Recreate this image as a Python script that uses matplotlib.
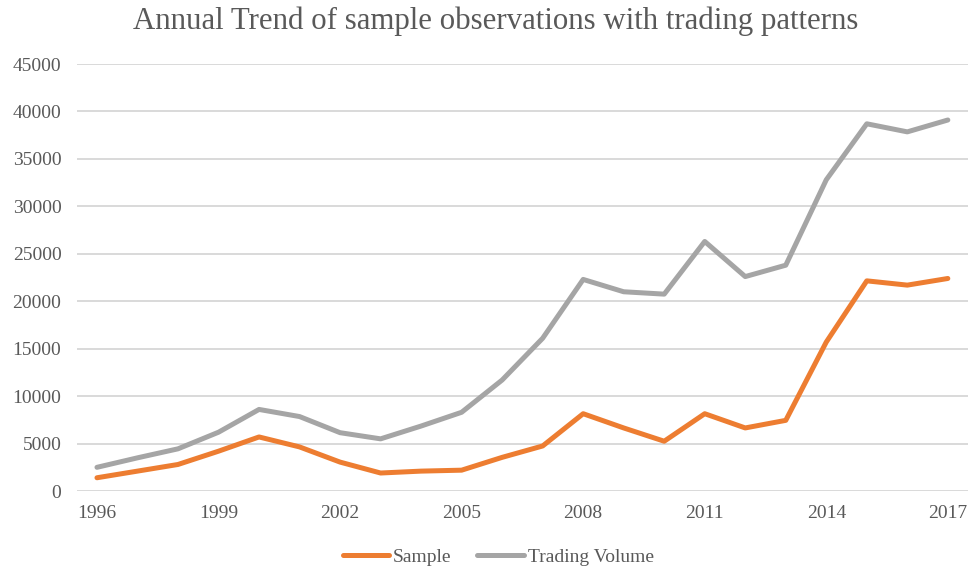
import numpy as np
import matplotlib.pyplot as plt

plt.rcParams['font.family'] = ['Liberation Serif', 'DejaVu Serif']

# data
years = list(range(1996, 2018))
sample = [1400, 2100, 2800, 4200, 5700, 4650, 3050, 1900, 2100, 2200,
          3550, 4750, 8150, 6650, 5250, 8150, 6650, 7450,
          15700, 22150, 21700, 22400]
trading = [2500, 3500, 4450, 6200, 8600, 7850, 6150, 5500, 6850, 8300,
           11700, 16100, 22300, 21000, 20750, 26300, 22600, 23800,
           32800, 38700, 37850, 39100]
xticks = list(range(1996, 2018, 3))

fig = plt.figure(figsize=(9.71, 5.69), dpi=100)
ax = fig.add_axes([0.079, 0.137, 0.918, 0.7505])

ax.plot(years, sample, color='#ED7D31', lw=3.6, label='Sample',
        solid_joinstyle='round', solid_capstyle='round')
ax.plot(years, trading, color='#A5A5A5', lw=3.6, label='Trading Volume',
        solid_joinstyle='round', solid_capstyle='round')

ax.set_xlim(1995.5, 2017.5)
ax.set_ylim(0, 45000)
ax.set_yticks(np.arange(0, 45001, 5000))
ax.set_xticks(xticks)
ax.yaxis.grid(True, color='#D9D9D9', lw=1.4)
ax.set_axisbelow(True)
for s in ax.spines.values():
    s.set_visible(False)
ax.tick_params(length=0, labelsize=14, labelcolor='#595959')
ax.tick_params(axis='y', pad=11)
ax.tick_params(axis='x', pad=10)

fig.suptitle('Annual Trend of sample observations with trading patterns',
             x=0.511, y=0.988, fontsize=22.2, color='#595959')

leg = fig.legend(loc='center', bbox_to_anchor=(0.513, 0.021), ncol=2,
                 frameon=False, fontsize=14, handlelength=2.4,
                 handletextpad=0.2, columnspacing=1.3)
for t in leg.get_texts():
    t.set_color('#595959')

fig.savefig('out.png', dpi=100)
